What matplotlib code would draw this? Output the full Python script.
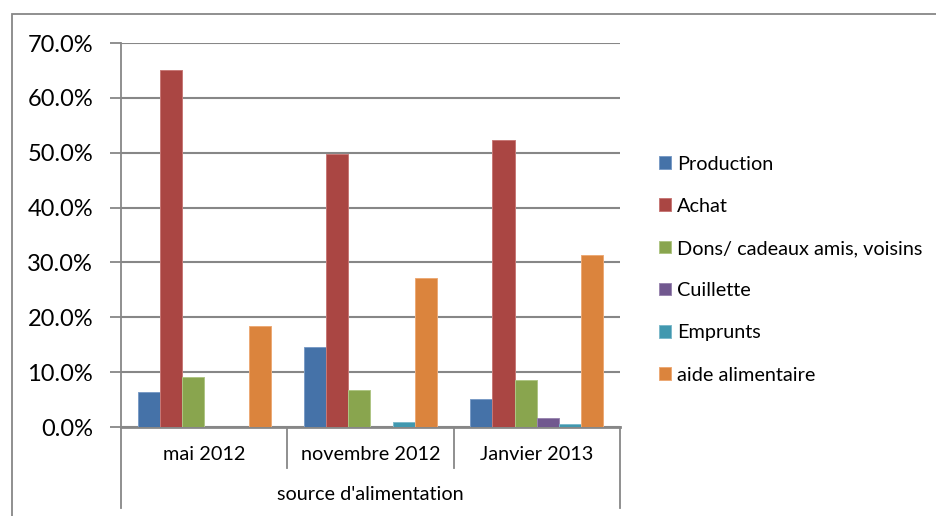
import matplotlib.pyplot as plt
import numpy as np
from matplotlib.patches import Rectangle
from matplotlib.ticker import FuncFormatter

plt.rcParams['font.family'] = ['Lato', 'DejaVu Sans']

periods = ['mai 2012', 'novembre 2012', 'Janvier 2013']
axis_title = "source d'alimentation"
series = ['Production', 'Achat', 'Dons/ cadeaux amis, voisins', 'Cuillette', 'Emprunts', 'aide alimentaire']
production = [0.064, 0.146, 0.051]
achat = [0.651, 0.498, 0.523]
dons = [0.091, 0.067, 0.086]
cuillette = [0.0, 0.0, 0.016]
emprunts = [0.0, 0.009, 0.005]
aide = [0.184, 0.272, 0.314]
values = [production, achat, dons, cuillette, emprunts, aide]
colors = ['#4572A8', '#AA4643', '#89A54E', '#71588F', '#4198AF', '#DB843D']
edges = ['#7A9CC6', '#C77876', '#AFC584', '#9A86B0', '#7DBACB', '#EDAA75']

grey = '#878787'

fig = plt.figure(figsize=(9.36, 5.16), dpi=100)
ax = fig.add_axes([121 / 936, 1 - 427 / 516, 499 / 936, 384 / 516])

# outer chart frame (cut at the right and bottom edges)
fig.patches.append(Rectangle((12 / 936, -0.2), 1.0, 1.2 - 14 / 516, transform=fig.transFigure,
                             fill=False, edgecolor=grey, linewidth=1.3))

x = np.arange(len(periods))
w = 1 / 7.5
for i, (vals, c, ec, name) in enumerate(zip(values, colors, edges, series)):
    ax.bar(x + (i - 2.5) * w, vals, w, color=c, edgecolor=ec, linewidth=0.7, label=name, zorder=3)

ax.set_xlim(-0.5, 2.5)
ax.set_ylim(0, 0.7)
ax.set_yticks(np.arange(0, 0.71, 0.1))
ax.yaxis.set_major_formatter(FuncFormatter(lambda v, p: '{:.1f}%'.format(v * 100)))
ax.tick_params(axis='y', direction='out', length=8, width=1.3, color=grey, labelsize=17, pad=12)
ax.set_xticks([])
ax.grid(axis='y', color=grey, linewidth=1.5, zorder=0)
for s in ['top', 'right']:
    ax.spines[s].set_visible(False)
ax.spines['left'].set_color(grey)
ax.spines['left'].set_linewidth(1.3)
ax.spines['bottom'].set_color(grey)
ax.spines['bottom'].set_linewidth(2)

# multi-level category axis
tr = ax.get_xaxis_transform()
for b in [0.5, 1.5]:
    ax.plot([b, b], [0, -41 / 384], transform=tr, color=grey, linewidth=1.3, clip_on=False)
for b in [-0.5, 2.5]:
    ax.plot([b, b], [0, -81 / 384], transform=tr, color=grey, linewidth=1.3, clip_on=False)
for xi, lab in zip(x, periods):
    ax.text(xi, -28 / 384, lab, transform=tr, ha='center', va='center', fontsize=14.3)
ax.text(1, -67 / 384, axis_title, transform=tr, ha='center', va='center', fontsize=14.3)

ax.legend(loc='center left', bbox_to_anchor=(1.042, 0.41), frameon=False, fontsize=14.3,
          handlelength=0.6, handleheight=0.6, handletextpad=0.3, labelspacing=1.27)

fig.savefig('out.png', dpi=100)
